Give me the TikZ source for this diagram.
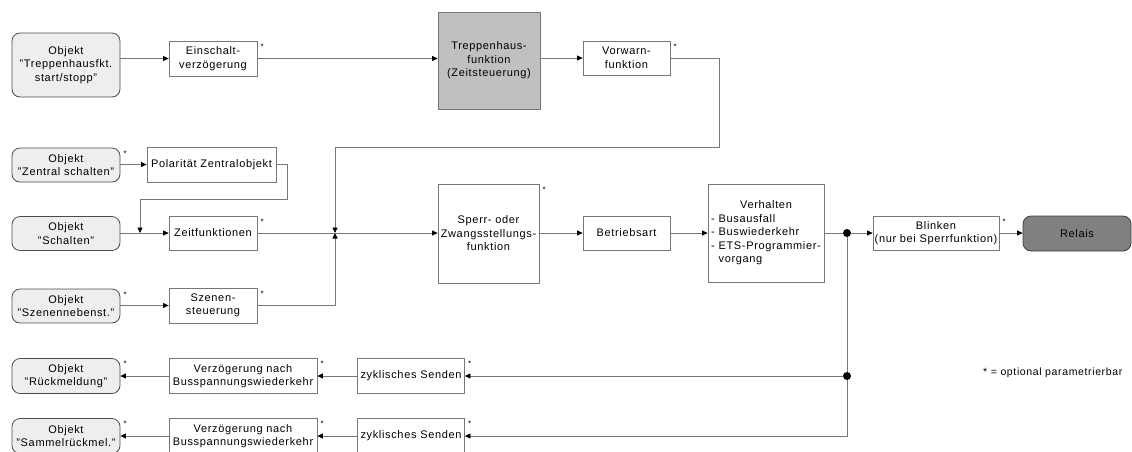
\documentclass[tikz,border=0pt]{standalone}
\usepackage{fontspec}
\setmainfont{Liberation Sans}[LetterSpace=6]
\usetikzlibrary{arrows.meta, positioning}

\definecolor{objgrau}{HTML}{EEEEEE}
\definecolor{mittelgrau}{HTML}{C0C0C0}
\definecolor{dunkelgrau}{HTML}{808080}
\definecolor{liniengrau}{HTML}{767676}

\tikzset{
  block/.style={draw=liniengrau, line width=0.8pt, rectangle, inner sep=0pt, align=center,
    font=\fontsize{11}{13.5}\selectfont},
  objekt/.style={block, draw=black!70, rounded corners=8pt, fill=objgrau,
    minimum width=108pt, minimum height=34pt},
  linie/.style={draw=liniengrau, line width=0.8pt},
  pfeil/.style={linie, -{Triangle[length=5.5pt, width=5pt, color=black]}},
  punkt/.style={circle, fill=black, minimum size=8pt, inner sep=0pt},
  stern/.style={anchor=north west, inner sep=0pt, xshift=3pt, yshift=-3pt,
    font=\fontsize{8}{8}\selectfont},
}

\begin{document}
\begin{tikzpicture}[x=1pt, y=-1pt]
  \useasboundingbox (0,0) rectangle (1132,451);

  % Eingangsobjekte
  \node[objekt, minimum height=64pt] (objTr) at (66,65) {Objekt\\"Treppenhausfkt.\\start/stopp"};
  \node[objekt] (objZ) at (66,165) {Objekt\\"Zentral schalten"};
  \node[objekt] (objS) at (66,233.5) {Objekt\\"Schalten"};
  \node[objekt] (objSz) at (66,306) {Objekt\\"Szenennebenst."};

  % Funktionsbloecke
  \node[block, minimum width=88pt, minimum height=35pt] (ein) at (213,58.5) {Einschalt-\\verzögerung};
  \node[block, fill=mittelgrau, minimum width=102pt, minimum height=97pt] (trep) at (489,60.5) {Treppenhaus-\\funktion\\(Zeitsteuerung)};
  \node[block, minimum width=87pt, minimum height=34pt] (vorw) at (626.5,58) {Vorwarn-\\funktion};
  \node[block, minimum width=129pt, minimum height=35pt] (pol) at (211.5,164.5) {Polarität Zentralobjekt};
  \node[block, minimum width=88pt, minimum height=34pt] (zeit) at (213,233) {Zeitfunktionen};
  \node[block, minimum width=88pt, minimum height=35pt] (szen) at (213,305.5) {Szenen-\\steuerung};
  \node[block, minimum width=101pt, minimum height=99pt] (sperr) at (488.5,233.5) {Sperr- oder\\Zwangsstellungs-\\funktion};
  \node[block, minimum width=87pt, minimum height=34pt] (betr) at (626.5,233) {Betriebsart};
  \node[block, minimum width=116pt, minimum height=98pt] (verh) at (766,233)
    {\begin{tabular}{@{}l@{}}\multicolumn{1}{@{}c@{}}{Verhalten}\\- Busausfall\\- Buswiederkehr\\- ETS-Programmier-\\\phantom{- }vorgang\end{tabular}};
  \node[block, minimum width=126pt, minimum height=34pt] (blink) at (936,233) {Blinken\\(nur bei Sperrfunktion)};
  \node[objekt, draw=black!75, fill=dunkelgrau, minimum height=35pt] (relais) at (1077,233.5) {Relais};

  % Rueckmeldungen
  \foreach \i/\y/\txt in {1/376/"Rückmeldung", 2/436/"Sammelrückmel."} {
    \node[objekt, minimum height=35pt] (objR\i) at (66,\y) {Objekt\\\txt};
    \node[block, minimum width=148pt, minimum height=35pt] (verz\i) at (243,\y) {Verzögerung nach\\Busspannungswiederkehr};
    \node[block, minimum width=107pt, minimum height=35pt] (zyk\i) at (411,\y) {zyklisches Senden};
  }

  % Sterne
  \foreach \n in {ein,vorw,objZ,zeit,objSz,szen,sperr,blink,objR1,verz1,zyk1,objR2,verz2,zyk2}
    \node[stern] at (\n.north east) {*};

  \node[anchor=west, inner sep=0pt, font=\fontsize{10.5}{12}\selectfont] (legende) at (983,373) {* = optional parametrierbar};

  % Knoten und Hilfspunkte
  \coordinate (kn) at (335,233);
  \coordinate (v1) at (719,147);
  \coordinate (p1) at (287,199);
  \coordinate (p2) at (140,233);
  \node[punkt] (d1) at (847,233) {};
  \node[punkt] (d2) at (847,376) {};

  % Verbindungen
  \draw[pfeil] (objTr.east |- ein) -- (ein);
  \draw[pfeil] (ein) -- (trep.west |- ein);
  \draw[pfeil] (trep.east |- vorw) -- (vorw);
  \draw[pfeil] (vorw) -| (v1) -| (kn);
  \draw[pfeil] (objZ.east |- pol) -- (pol);
  \draw[pfeil] (pol) -| (p1) -| (p2);
  \draw[pfeil] (objS.east |- zeit) -- (zeit);
  \draw[linie] (zeit) -- (kn);
  \draw[pfeil] (objSz.east |- szen) -- (szen);
  \draw[pfeil] (szen) -| (kn);
  \draw[pfeil] (kn) -- (sperr.west |- kn);
  \draw[pfeil] (sperr.east |- betr) -- (betr);
  \draw[pfeil] (betr) -- (verh);
  \draw[linie] (verh) -- (d1);
  \draw[pfeil] (d1) -- (blink);
  \draw[pfeil] (blink) -- (relais.west |- blink);
  \draw[linie] (d1) -- (d2);
  \draw[pfeil] (d2) -- (zyk1);
  \draw[pfeil] (d2) |- (zyk2);
  \foreach \i in {1,2} {
    \draw[pfeil] (zyk\i) -- (verz\i);
    \draw[pfeil] (verz\i) -- (objR\i);
  }
\end{tikzpicture}
\end{document}
